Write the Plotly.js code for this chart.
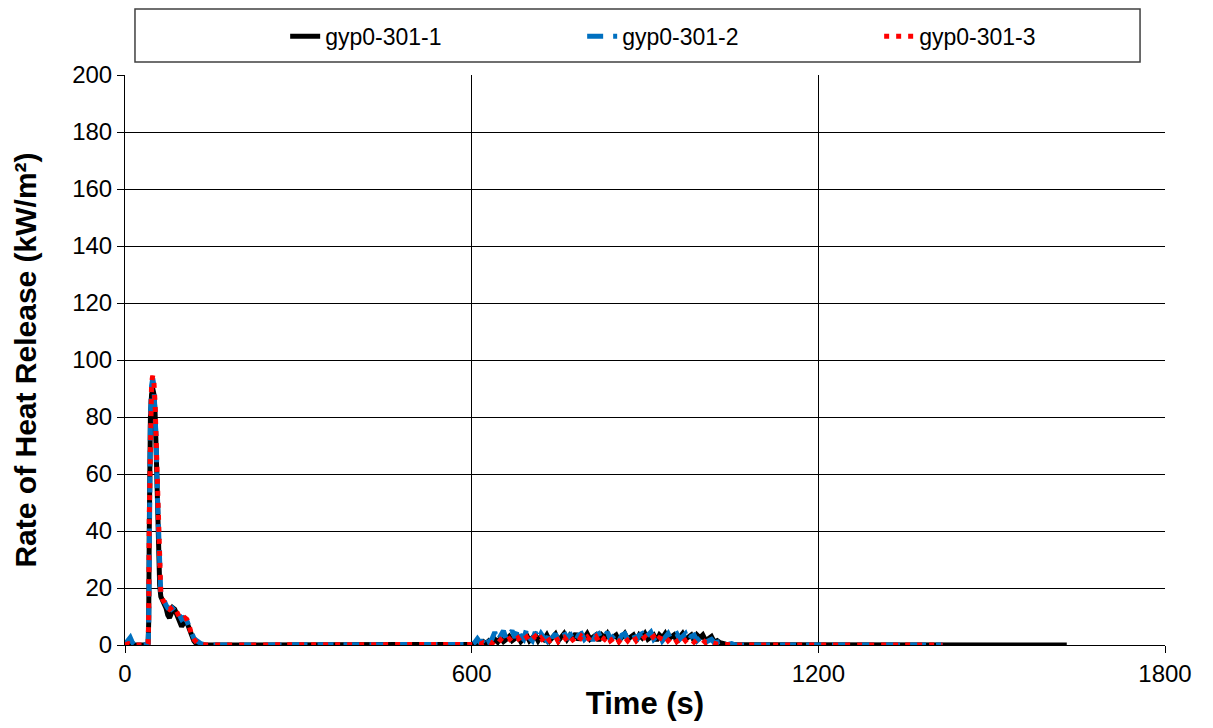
<!DOCTYPE html>
<html>
<head>
<meta charset="utf-8">
<script src="https://cdn.plot.ly/plotly-3.0.1.min.js"></script>
<style>
  html, body { margin: 0; padding: 0; background: #ffffff; }
  #chart { width: 1213px; height: 728px; }
</style>
</head>
<body>
<div id="chart"></div>
<script>
// Cone calorimeter heat release rate, three gypsum board specimens (gyp0-301)

const seriesNames = ['gyp0-301-1', 'gyp0-301-2', 'gyp0-301-3'];

// Ignition / first peak (s)
const timeEarly = [0, 3, 6, 9, 12, 15, 20, 25, 30, 35, 39, 40, 41, 42, 43, 44,
  46, 48, 50, 52, 54, 56, 58, 60, 62, 65, 68, 71, 74, 77, 80, 83, 86, 89, 92,
  95, 98, 101, 104, 107, 110, 113, 116, 119, 122, 125, 128, 131, 135, 140, 150];

const hrrEarly1 = [0, 0, 0.3, 0.8, 0.3, 0, 0, 0, 0, 0, 0, 0.5, 8, 40, 66, 80,
  88, 90, 88, 82, 68, 50, 33, 21, 17, 15.5, 15, 13, 10.5, 9.5, 11, 13, 12.5, 11, 9,
  7, 6.5, 7.5, 8.5, 8, 6.5, 4.5, 2.5, 1.5, 0.8, 0.5, 0.3, 0.2, 0.1, 0, 0];

const hrrEarly2 = [0.3, 1, 2, 2.6, 1.2, 0.3, 0, 0, 0, 0, 0, 0.3, 6, 38, 64, 80,
  91, 93.5, 91, 84, 71, 53, 36, 23, 17.5, 16, 15.5, 14, 13, 13, 12.5, 13, 13.5, 12.5, 11,
  9.5, 9, 9.5, 9, 8.5, 7, 5, 3.5, 2.5, 1.8, 1.2, 0.8, 0.5, 0.3, 0.1, 0];

const hrrEarly3 = [0, 0.3, 0.5, 0.3, 0, 0, 0, 0, 0, 0, 0, 0.5, 10, 45, 70, 84,
  92, 94.5, 92.5, 85, 72, 54, 37, 24, 18, 16, 15, 13.5, 13, 12.5, 13, 13.5, 13, 12, 10.5,
  9.5, 9.5, 9, 9.5, 9, 7.5, 5, 3, 2, 1.2, 0.7, 0.4, 0.2, 0.1, 0, 0];

// Quiet interval after the paper facing burns off (s)
const timeQuiet = [200, 300, 400, 500, 590];
const hrrQuiet = [0, 0, 0, 0, 0];

// Second, low smouldering phase (s)
const timeSecond = [600, 605, 610, 615, 620, 625, 630, 635, 640, 645,
  650, 655, 660, 665, 670, 675, 680, 685, 690, 695,
  700, 705, 710, 715, 720, 725, 730, 735, 740, 745,
  750, 755, 760, 765, 770, 775, 780, 785, 790, 795,
  800, 805, 810, 815, 820, 825, 830, 835, 840, 845,
  850, 855, 860, 865, 870, 875, 880, 885, 890, 895,
  900, 905, 910, 915, 920, 925, 930, 935, 940, 945,
  950, 955, 960, 965, 970, 975, 980, 985, 990, 995,
  1000, 1005, 1010, 1015, 1020, 1025, 1030, 1035, 1040, 1045,
  1050, 1055, 1060];

const hrrSecond1 = [0, 0.3, 0.8, 0.4, 1.2, 0.6, 1.5, 0.8, 2, 1,
  2.5, 1.2, 2, 3, 1.5, 2.5, 3, 1.2, 2.5, 3.5,
  1.5, 2.5, 3.5, 1.5, 3, 2, 3.5, 1.5, 3, 3.8,
  1.5, 3, 4, 2, 3.5, 2.5, 4, 1.8, 3.5, 2.5,
  4, 2, 3, 3.5, 1.5, 3.5, 2.5, 4, 2, 3,
  3.5, 1.5, 3, 4, 2, 3, 3.5, 1.5, 3.5, 2.5,
  4, 2, 3, 3.5, 1.5, 3.5, 2.5, 4, 2, 3,
  3.5, 1.5, 3, 4, 2, 3, 3.5, 1.5, 3.5, 2.5,
  3.5, 1.5, 2.5, 3, 1, 1.5, 0.8, 0.4, 0.3, 0.1,
  0.1, 0, 0];

const hrrSecond2 = [0.2, 0.8, 2.2, 0.8, 1.5, 3.5, 1.2, 2, 4.5, 1.5,
  3, 5, 2, 3.5, 5, 2.5, 6, 3, 2, 5.5,
  2.5, 1.5, 4.5, 2, 4, 2.5, 1.5, 5, 2.5, 4,
  1.5, 3, 4.5, 2, 3.5, 4, 1.5, 3.5, 4, 2,
  3, 4, 1.5, 3.5, 4, 2, 3, 4.5, 2, 3,
  4, 1.5, 3.5, 4, 2, 3.5, 4, 1.5, 3.5, 4,
  2, 3.5, 4.5, 2, 3, 4, 1.5, 3, 4, 2,
  3.5, 4, 2, 3, 4, 1.5, 3, 3.5, 1.5, 2.5,
  3, 1, 1.5, 2, 0.8, 1, 1.2, 0.4, 0.8, 0.3,
  0.5, 0.1, 0];

const hrrSecond3 = [0, 0.2, 0.5, 0.3, 0.8, 0.4, 1, 0.5, 1.5, 0.6,
  1.8, 0.8, 1.5, 2.2, 1, 2, 2.5, 1, 1.8, 2.8,
  1.2, 2, 3, 1.5, 2.5, 1.2, 2.8, 1.5, 2, 3,
  1.2, 2.5, 2.8, 1.5, 3, 1.8, 2.5, 1.2, 3, 2,
  2.8, 1.5, 2.5, 3, 1.2, 2.8, 2, 3.2, 1.5, 2.5,
  3, 1.2, 2.5, 2.8, 1.5, 2.8, 3.2, 1.5, 2.5, 2,
  2.8, 1.5, 2.2, 3, 1.2, 2.5, 2, 3, 1.5, 2.5,
  2.8, 1.2, 2, 2.8, 1.5, 2.5, 2, 1, 1.8, 1.5,
  1.8, 0.8, 1.2, 0.8, 0.4, 0.3, 0.2, 0.1, 0, 0,
  0, 0, 0];

// End of test (s)
const timeTail1 = [1100, 1200, 1300, 1400, 1500, 1630];
const hrrTail1 = [0, 0, 0, 0, 0, 0];
const timeTail23 = [1100, 1200, 1300, 1415];
const hrrTail23 = [0, 0, 0, 0];

const xTickVals = [0, 600, 1200, 1800];
const yTickVals = [0, 20, 40, 60, 80, 100, 120, 140, 160, 180, 200];

const FONT = '"Liberation Sans", Arial, sans-serif';

const traces = [
  {
    name: seriesNames[0],
    x: timeEarly.concat(timeQuiet, timeSecond, timeTail1),
    y: hrrEarly1.concat(hrrQuiet, hrrSecond1, hrrTail1),
    mode: 'lines',
    line: { color: '#000000', width: 5 }
  },
  {
    name: seriesNames[1],
    x: timeEarly.concat(timeQuiet, timeSecond, timeTail23),
    y: hrrEarly2.concat(hrrQuiet, hrrSecond2, hrrTail23),
    mode: 'lines',
    line: { color: '#0070C0', width: 5, dash: '16px,10px' }
  },
  {
    name: seriesNames[2],
    x: timeEarly.concat(timeQuiet, timeSecond, timeTail23),
    y: hrrEarly3.concat(hrrQuiet, hrrSecond3, hrrTail23),
    mode: 'lines',
    line: { color: '#FF0000', width: 5, dash: '5px,7px' }
  }
];

const layout = {
  width: 1213,
  height: 728,
  paper_bgcolor: '#ffffff',
  plot_bgcolor: '#ffffff',
  margin: { l: 125, r: 48, t: 75, b: 83, pad: 0 },
  font: { family: FONT, color: '#000000' },
  showlegend: true,
  legend: {
    orientation: 'h',
    x: 0.154, xanchor: 'left',
    y: 1.068, yanchor: 'middle',
    font: { family: FONT, size: 23, color: '#000000' },
    bgcolor: 'rgba(0,0,0,0)',
    borderwidth: 0,
    entrywidth: 252,
    entrywidthmode: 'pixels',
    traceorder: 'normal'
  },
  xaxis: {
    range: [0, 1800],
    tickvals: xTickVals,
    ticktext: xTickVals.map(String),
    showgrid: true, gridcolor: '#000000', gridwidth: 1,
    zeroline: false,
    showline: true, linecolor: '#000000', linewidth: 1,
    ticks: 'outside', ticklen: 7, tickcolor: '#000000', tickwidth: 1,
    tickfont: { family: FONT, size: 24, color: '#000000' },
    title: { text: '<b>Time (s)</b>', font: { family: FONT, size: 31, color: '#000000' }, standoff: 6 }
  },
  yaxis: {
    range: [0, 200],
    tickvals: yTickVals,
    ticktext: yTickVals.map(String),
    showgrid: true, gridcolor: '#000000', gridwidth: 1,
    zeroline: false,
    showline: true, linecolor: '#000000', linewidth: 1,
    ticks: 'outside', ticklen: 7, tickcolor: '#000000', tickwidth: 1,
    tickfont: { family: FONT, size: 24, color: '#000000' },
    title: { text: '<b>Rate of Heat Release (kW/m²)</b>', font: { family: FONT, size: 30, color: '#000000' }, standoff: 26 }
  },
  shapes: [
    {
      type: 'rect', xref: 'paper', yref: 'paper',
      x0: 0.0096, x1: 0.976, y0: 1.0228, y1: 1.1158,
      line: { color: '#404040', width: 1.5 },
      fillcolor: 'rgba(0,0,0,0)',
      layer: 'below'
    }
  ]
};

Plotly.newPlot('chart', traces, layout, { staticPlot: true, displayModeBar: false });
</script>
</body>
</html>
